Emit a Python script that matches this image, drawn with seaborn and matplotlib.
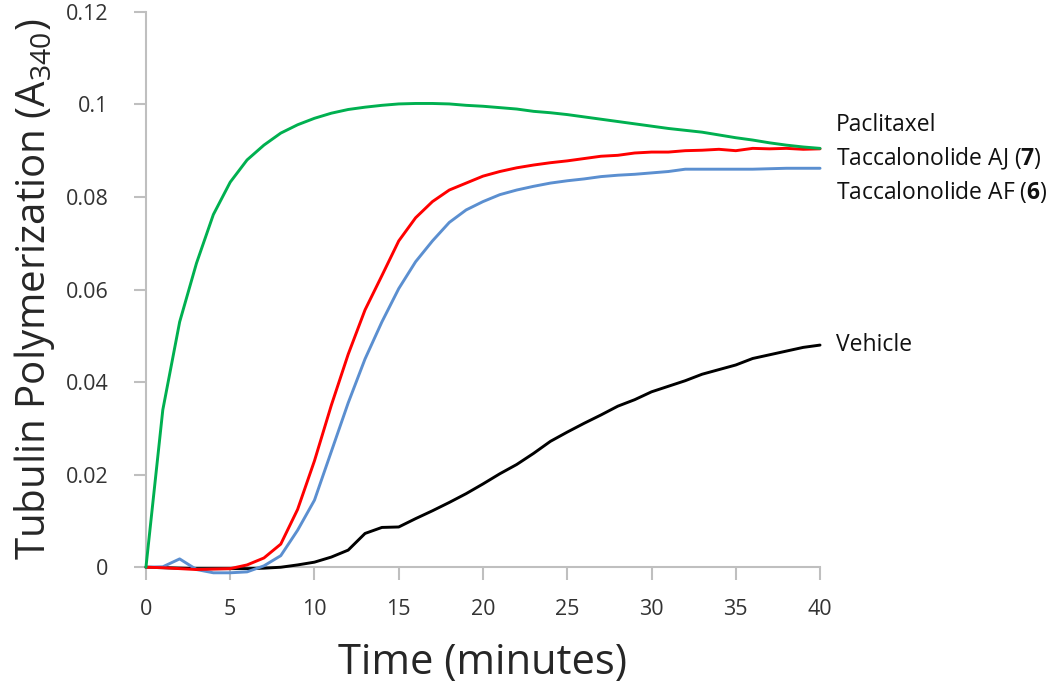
import numpy as np
import pandas as pd
import matplotlib
matplotlib.use("Agg")
import matplotlib.pyplot as plt
import seaborn as sns

# time points (minutes)
minutes = list(range(0, 41))

# absorbance at 340 nm
paclitaxel = [0, 0.034, 0.053, 0.0657, 0.0762, 0.0832, 0.088, 0.0912, 0.0938, 0.0956,
              0.097, 0.0981, 0.0989, 0.0994, 0.0998, 0.1001, 0.1002, 0.1002, 0.1001, 0.0998,
              0.0996, 0.0993, 0.099, 0.0985, 0.0982, 0.0978, 0.0973, 0.0968, 0.0963, 0.0958,
              0.0953, 0.0948, 0.0944, 0.094, 0.0934, 0.0928, 0.0923, 0.0917, 0.0912, 0.0908,
              0.0905]
tacca_aj = [0, -0.0001, -0.0003, -0.0005, -0.0004, -0.0003, 0.0005, 0.002, 0.005, 0.0125,
            0.023, 0.035, 0.046, 0.0556, 0.063, 0.0705, 0.0755, 0.079, 0.0815, 0.083,
            0.0845, 0.0855, 0.0863, 0.0869, 0.0874, 0.0878, 0.0883, 0.0888, 0.089, 0.0895,
            0.0897, 0.0897, 0.09, 0.0901, 0.0903, 0.09, 0.0905, 0.0904, 0.0905, 0.0903,
            0.0904]
tacca_af = [0, 0.0001, 0.0018, -0.0005, -0.0012, -0.0012, -0.001, 0.0003, 0.0025, 0.008,
            0.0145, 0.025, 0.0355, 0.045, 0.053, 0.0602, 0.066, 0.0705, 0.0745, 0.0772,
            0.079, 0.0805, 0.0815, 0.0823, 0.083, 0.0835, 0.0839, 0.0844, 0.0847, 0.0849,
            0.0852, 0.0855, 0.086, 0.086, 0.086, 0.086, 0.086, 0.0861, 0.0862, 0.0862,
            0.0862]
vehicle = [0, -0.0001, -0.0002, -0.0003, -0.0003, -0.0003, -0.0003, -0.0002, 0, 0.0005,
           0.0011, 0.0022, 0.0037, 0.0073, 0.0086, 0.0087, 0.0105, 0.0122, 0.014, 0.0159,
           0.018, 0.0202, 0.0222, 0.0246, 0.0272, 0.0292, 0.0311, 0.0329, 0.0348, 0.0362,
           0.0379, 0.0391, 0.0403, 0.0417, 0.0427, 0.0437, 0.0451, 0.0459, 0.0467, 0.0475,
           0.048]

series_names = ["Paclitaxel", "Taccalonolide AJ", "Taccalonolide AF", "Vehicle"]
labels = ["Paclitaxel", r"Taccalonolide AJ ($\mathbf{7}$)",
          r"Taccalonolide AF ($\mathbf{6}$)", "Vehicle"]
label_y = [0.0956, 0.0882, 0.081, 0.048]
colors = {"Paclitaxel": "#00B050", "Taccalonolide AJ": "#FF0000",
          "Taccalonolide AF": "#5B8FD0", "Vehicle": "#000000"}

# long form table for seaborn
df = pd.DataFrame({
    "minutes": minutes * 4,
    "A340": paclitaxel + tacca_aj + tacca_af + vehicle,
    "compound": sum([[n] * len(minutes) for n in series_names], []),
})

sns.set_style("white")
plt.rcParams["font.family"] = ["Open Sans", "DejaVu Sans"]
plt.rcParams["mathtext.fontset"] = "custom"
plt.rcParams["mathtext.rm"] = "Open Sans"
plt.rcParams["mathtext.bf"] = "Open Sans:bold"

fig = plt.figure(figsize=(10.5, 6.96), dpi=100)
ax = fig.add_axes([0.139, 0.185, 0.642, 0.798])

# draw vehicle first so the coloured curves sit on top
order = ["Vehicle", "Taccalonolide AF", "Taccalonolide AJ", "Paclitaxel"]
for name in order:
    sns.lineplot(data=df[df["compound"] == name], x="minutes", y="A340",
                 color=colors[name], linewidth=2.1, ax=ax, legend=False)
for ln in ax.lines:
    ln.set_clip_on(False)

ax.set_xlim(0, 40)
ax.set_ylim(0, 0.12)
ax.set_xticks(range(0, 41, 5))
yt = np.arange(0, 0.1201, 0.02)
ax.set_yticks(yt)
ax.set_yticklabels([f"{v:g}" for v in np.round(yt, 2)])

for s in ["top", "right"]:
    ax.spines[s].set_visible(False)
for s in ["left", "bottom"]:
    ax.spines[s].set_color("#BFBFBF")
    ax.spines[s].set_linewidth(1.5)
    ax.spines[s].set_zorder(0)
ax.tick_params(axis="both", direction="out", length=9, width=1.5,
               bottom=True, left=True,
               color="#BFBFBF", labelsize=15.5, labelcolor="#333333")
ax.tick_params(axis="x", pad=14)
ax.tick_params(axis="y", pad=18)

ax.set_xlabel("Time (minutes)", fontsize=30, labelpad=16)
ax.set_ylabel(r"Tubulin Polymerization (A$_{340}$)", fontsize=29, labelpad=6)

# series labels at right end
for lab, yv in zip(labels, label_y):
    ax.text(40.95, yv, lab, fontsize=16.5, va="center", ha="left",
            color="#111111", clip_on=False)

fig.savefig("out.png", dpi=100)
